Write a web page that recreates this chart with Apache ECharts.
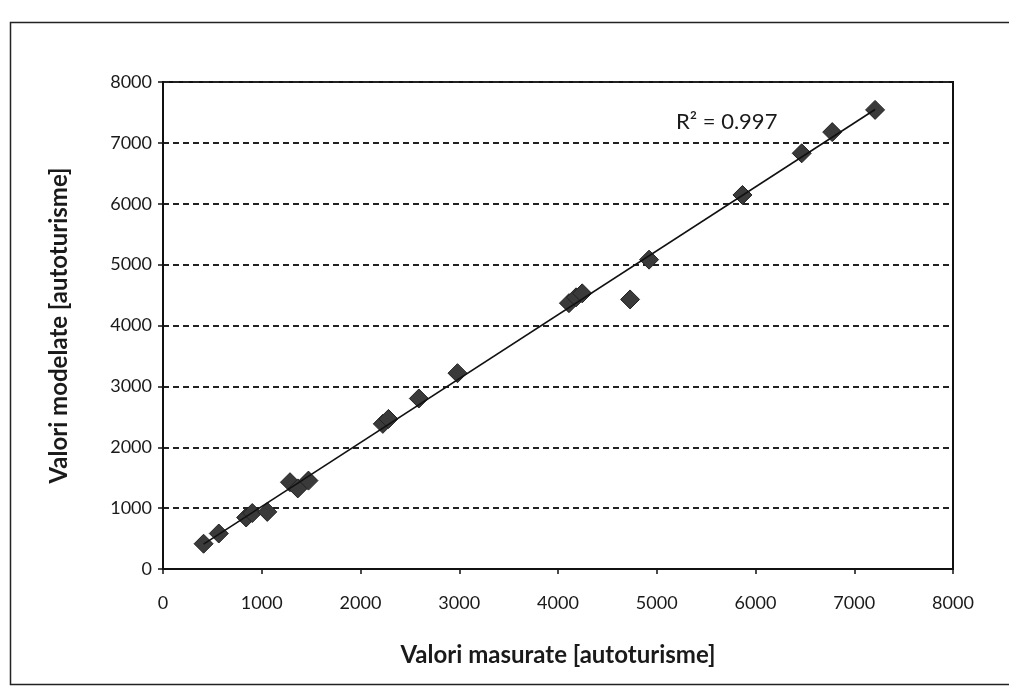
<!DOCTYPE html>
<html>
<head>
<meta charset="utf-8">
<script src="https://cdn.jsdelivr.net/npm/echarts@6/dist/echarts.min.js"></script>
<style>
html,body{margin:0;padding:0;background:#fff;}
#chart{width:1009px;height:692px;}
</style>
</head>
<body>
<div id="chart"></div>
<script>
// Measured vs modeled values (autoturisme)
const measured = [411, 565, 842, 904, 1056, 1286, 1365, 1473, 2226, 2283, 2591, 2982, 4111, 4183, 4245, 4730, 4922, 5868, 6468, 6777, 7211];
const modeled  = [415, 583, 846, 919, 938, 1426, 1324, 1452, 2384, 2465, 2801, 3217, 4367, 4463, 4528, 4428, 5082, 6144, 6829, 7177, 7542];
const axisTicks = [0, 1000, 2000, 3000, 4000, 5000, 6000, 7000, 8000];
const r2Label = 'R² = 0.997';
const xTitle = 'Valori masurate [autoturisme]';
const yTitle = 'Valori modelate [autoturisme]';

// Linear trendline (least squares) from the data
const n = measured.length;
let sx = 0, sy = 0, sxx = 0, sxy = 0;
for (let i = 0; i < n; i++) { sx += measured[i]; sy += modeled[i]; sxx += measured[i]*measured[i]; sxy += measured[i]*modeled[i]; }
const slope = (n*sxy - sx*sy) / (n*sxx - sx*sx);
const intercept = (sy - slope*sx) / n;
const xMin = Math.min(...measured), xMax = Math.max(...measured);
const trend = [[xMin, slope*xMin + intercept], [xMax, slope*xMax + intercept]];

const points = measured.map((v, i) => [v, modeled[i]]);
const font = 'Lato, "Open Sans", sans-serif';
const fmt = v => String(v);

const chart = echarts.init(document.getElementById('chart'));
chart.setOption({
  backgroundColor: '#fff',
  animation: false,
  grid: { left: 163, right: 56, top: 82, bottom: 123, show: true, borderColor: '#111', borderWidth: 2 },
  xAxis: {
    type: 'value', min: axisTicks[0], max: axisTicks[axisTicks.length-1], interval: 1000,
    name: xTitle, nameLocation: 'middle', nameGap: 74,
    nameTextStyle: { fontFamily: font, fontSize: 24, fontWeight: 'bold', color: '#1a1a1a' },
    axisLine: { show: true, lineStyle: { color: '#111', width: 2 } },
    axisTick: { show: true, length: 5, lineStyle: { color: '#111', width: 1.5 } },
    axisLabel: { fontFamily: font, fontSize: 18, color: '#1a1a1a', margin: 25, formatter: fmt },
    splitLine: { show: false }
  },
  yAxis: {
    type: 'value', min: axisTicks[0], max: axisTicks[axisTicks.length-1], interval: 1000,
    name: yTitle, nameLocation: 'middle', nameGap: 92, nameRotate: 90,
    nameTextStyle: { fontFamily: font, fontSize: 24, fontWeight: 'bold', color: '#1a1a1a' },
    axisLine: { show: true, lineStyle: { color: '#111', width: 2 } },
    axisTick: { show: true, length: 5, lineStyle: { color: '#111', width: 1.5 } },
    axisLabel: { fontFamily: font, fontSize: 18, color: '#1a1a1a', margin: 11, formatter: fmt },
    splitLine: { show: true, lineStyle: { color: '#222', width: 2, type: [6, 4] } }
  },
  graphic: [
    { type: 'rect', left: 8, top: 20, shape: { width: 1020, height: 662 }, style: { fill: 'none', stroke: '#222', lineWidth: 1.5 }, silent: true },
    { type: 'text', left: 676, top: 111, style: { text: r2Label, fontFamily: font, fontSize: 22, fill: '#1a1a1a' } }
  ],
  series: [
    {
      type: 'scatter', data: points, symbol: 'diamond', symbolSize: 19,
      itemStyle: { color: '#3a3a3a', borderColor: '#222', borderWidth: 1, opacity: 1 },
      z: 3
    },
    {
      type: 'line', data: trend, symbol: 'none', silent: true,
      lineStyle: { color: '#111', width: 1.6 }, z: 4
    }
  ]
});
</script>
</body>
</html>
